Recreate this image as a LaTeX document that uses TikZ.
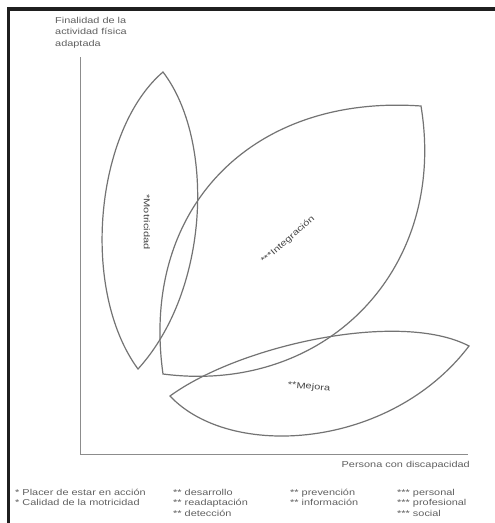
\documentclass[tikz,border=0pt]{standalone}
\usepackage{fontspec}
\setmainfont{Liberation Sans}
\newfontfamily\widesans[FakeStretch=1.27]{Liberation Sans}
\newfontfamily\widersans[FakeStretch=1.3]{Liberation Sans}
\begin{document}
\begin{tikzpicture}[x=1pt,y=-1pt,
  frame/.style={line width=3.5pt, black!88},
  axis/.style={line width=1pt, black!45},
  lens/.style={line width=1.2pt, black!55},
  lbl/.style={text=black!62, font=\widesans\fontsize{8.6}{11.5}\selectfont, inner sep=0pt},
  inlbl/.style={text=black!72, font=\widersans\fontsize{8.5}{9}\selectfont, inner sep=0pt},
]
\useasboundingbox (0,0) rectangle (495,523);
\fill[white] (0,0) rectangle (495,523);
% frame
\coordinate (fb) at (8.5,523);
\coordinate (fc) at (8.5,9);
\coordinate (fr) at (495,9);
\draw[frame] (fb) -- (fc) -- (fr);
% axes
\coordinate (O) at (80,454);
\coordinate (Ytop) at (80,57);
\coordinate (Xend) at (468,454);
\draw[axis] (Ytop) -- (O) -- (Xend);
% Motricidad lens
\coordinate (mt) at (163,72);
\coordinate (mb) at (138,369);
\draw[lens] (mt) .. controls (95,130) and (80,290) .. (mb)
            .. controls (210,290) and (215,140) .. (mt) -- cycle;
% Integracion lens
\coordinate (ia) at (163,374);
\coordinate (ib) at (421,106);
\draw[lens] (ia) .. controls (140,210) and (250,94) .. (ib)
            .. controls (448,270) and (325,395) .. (ia) -- cycle;
% Mejora lens
\coordinate (ml) at (170,396);
\coordinate (mr) at (469,346);
\draw[lens] (ml) .. controls (240,345) and (400,310) .. (mr)
            .. controls (390,450) and (230,460) .. (ml) -- cycle;
% inner labels
\node[inlbl, rotate=-90] (motr) at (147,222) {*Motricidad};
\node[inlbl, rotate=41] (integ) at (288,240) {***Integración};
\node[inlbl, rotate=-5] (mej) at (309,387) {**Mejora};
% axis labels
\node[lbl, anchor=north west, align=left] (ylab) at (55,17) {Finalidad de la\\actividad física\\adaptada};
\node[lbl, anchor=base east] (xlab) at (470,467) {Persona con discapacidad};
% legend
\node[lbl, anchor=base west] (l11) at (15,495) {* Placer de estar en acción};
\node[lbl, anchor=base west] (l12) at (15,505.5) {* Calidad de la motricidad};
\node[lbl, anchor=base west] (l21) at (173,495) {** desarrollo};
\node[lbl, anchor=base west] (l22) at (173,505.5) {** readaptación};
\node[lbl, anchor=base west] (l23) at (173,516) {** detección};
\node[lbl, anchor=base west] (l31) at (290,495) {** prevención};
\node[lbl, anchor=base west] (l32) at (290,505.5) {** información};
\node[lbl, anchor=base west] (l41) at (397,495) {*** personal};
\node[lbl, anchor=base west] (l42) at (397,505.5) {*** profesional};
\node[lbl, anchor=base west] (l43) at (397,516) {*** social};
\end{tikzpicture}
\end{document}
